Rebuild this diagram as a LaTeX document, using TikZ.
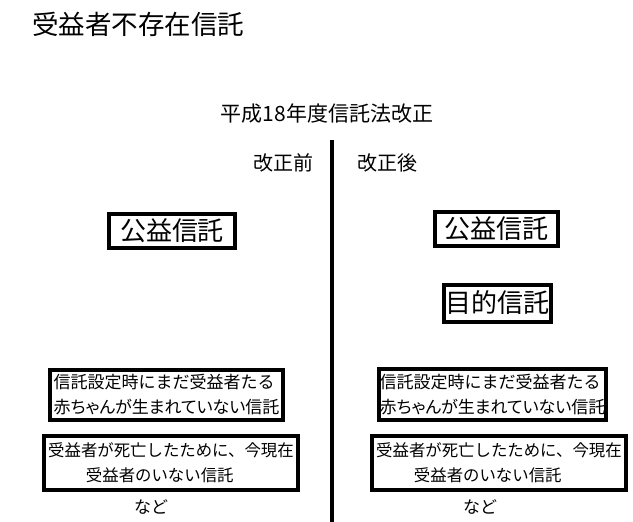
\documentclass[tikz,border=0pt]{standalone}
\usepackage{fontspec}
\setmainfont{Noto Sans CJK JP}
\usepackage{tikz}

\begin{document}
\begin{tikzpicture}[x=1pt,y=-1pt,line width=4pt,
  bigbox/.style={draw,inner sep=0pt,font=\fontsize{26}{30}\selectfont},
  smallbox/.style={draw,inner sep=0pt,align=left,font=\fontsize{17}{25}\selectfont},
  lab/.style={font=\fontsize{20}{22}\selectfont}]
\useasboundingbox (0,0) rectangle (633,522);
\node[anchor=west,font=\fontsize{26.5}{30}\selectfont] (title) at (27,24) {受益者不存在信託};
\node[lab,font=\fontsize{21}{24}\selectfont] (law) at (327,114) {平成18年度信託法改正};
\node[lab] (before) at (283,163) {改正前};
\node[lab] (after) at (387,163) {改正後};
\coordinate (top) at (332,140);
\coordinate (bottom) at (332,522);
\draw (top) -- (bottom);
% left side
\node[bigbox,minimum width=126,minimum height=34] (koeki1) at (172,231) {公益信託};
\node[smallbox,minimum width=233,minimum height=50] (baby1) at (166.5,395) {信託設定時にまだ受益者たる\\{\addfontfeature{RawFeature=+palt}赤ちゃんが生まれていない信託}};
\node[smallbox,font=\fontsize{16.4}{25}\selectfont,minimum width=254,minimum height=54] (dead1) at (171,463) {受益者が死亡したために、今現在\\\hspace*{2.3em}受益者のいない信託};
% right side
\node[bigbox,minimum width=123,minimum height=34] (koeki2) at (496,229) {公益信託};
\node[bigbox,minimum width=107,minimum height=37] (mokuteki) at (497,303) {目的信託};
\node[smallbox,minimum width=227,minimum height=51] (baby2) at (492.5,394.5) {信託設定時にまだ受益者たる\\{\addfontfeature{RawFeature=+palt}赤ちゃんが生まれていない信託}};
\node[smallbox,font=\fontsize{16.4}{25}\selectfont,minimum width=254,minimum height=54] (dead2) at (499,463) {受益者が死亡したために、今現在\\\hspace*{2.3em}受益者のいない信託};
\foreach \x/\n in {151/nado1,480/nado2}{\node[font=\fontsize{17}{20}\selectfont] (\n) at (\x,507) {など};};
\end{tikzpicture}
\end{document}
